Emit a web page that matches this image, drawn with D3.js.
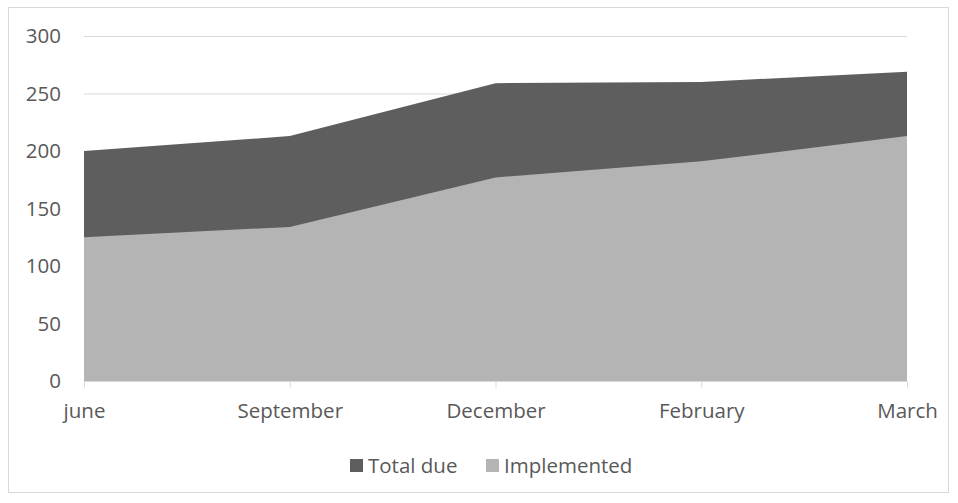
<!DOCTYPE html>
<html><head><meta charset="utf-8">
<script src="https://cdn.jsdelivr.net/npm/d3@7"></script>
<style>body{margin:0;background:#fff}svg{display:block}</style>
</head><body>
<svg id="c" width="958" height="503"></svg>
<script>
const categories = ["june","September","December","February","March"];
const totalDue = [200, 213, 259, 260, 269];
const implemented = [125, 134, 177, 191, 213];
const yTicks = [0,50,100,150,200,250,300];

const svg = d3.select("#c");
const font = "'Open Sans', Calibri, sans-serif";
const fs = 20.5;
const m = {l:84, r:907, t:36, b:381};
svg.append("rect").attr("x",8.5).attr("y",7.5).attr("width",940).attr("height",485)
  .attr("fill","#fff").attr("stroke","#d9d9d9");

const x = d3.scalePoint().domain(categories).range([m.l, m.r]);
const y = d3.scaleLinear().domain([0,300]).range([m.b, m.t]);

svg.append("g").selectAll("line").data(yTicks.filter(d=>d>0)).join("line")
  .attr("x1",m.l).attr("x2",m.r).attr("y1",d=>y(d)+0.5).attr("y2",d=>y(d)+0.5)
  .attr("stroke","#d9d9d9");

const area = vals => d3.area().x((d,i)=>x(categories[i])).y0(y(0)).y1(d=>y(d))(vals);
svg.append("path").attr("d",area(totalDue)).attr("fill","#5e5e5e");
svg.append("path").attr("d",area(implemented)).attr("fill","#b4b4b4");

const ya = d3.axisLeft(y).tickValues(yTicks).tickSize(0).tickPadding(23);
const yg = svg.append("g").attr("transform",`translate(${m.l},0)`).call(ya);
yg.select(".domain").remove();
yg.selectAll("text").attr("font-family",font).attr("font-size",fs).attr("fill","#595959");

const xa = d3.axisBottom(x).tickSize(6).tickPadding(16).tickSizeOuter(0);
const xg = svg.append("g").attr("transform",`translate(0,${m.b+0.5})`).call(xa);
xg.select(".domain").attr("stroke","#d9d9d9").attr("d",`M${m.l},0H${m.r}`);
xg.selectAll("line").attr("stroke","#d9d9d9");
xg.selectAll("text").attr("font-family",font).attr("font-size",fs).attr("fill","#595959");

const legend = [{name:"Total due",color:"#5e5e5e",x:350},{name:"Implemented",color:"#b4b4b4",x:486}];
const lg = svg.append("g").selectAll("g").data(legend).join("g")
  .attr("transform",d=>`translate(${d.x},459)`);
lg.append("rect").attr("width",13).attr("height",13).attr("fill",d=>d.color);
lg.append("text").attr("x",18).attr("y",6.5).attr("dy","0.35em").text(d=>d.name)
  .attr("font-family",font).attr("font-size",fs).attr("fill","#595959");
</script>
</body></html>
